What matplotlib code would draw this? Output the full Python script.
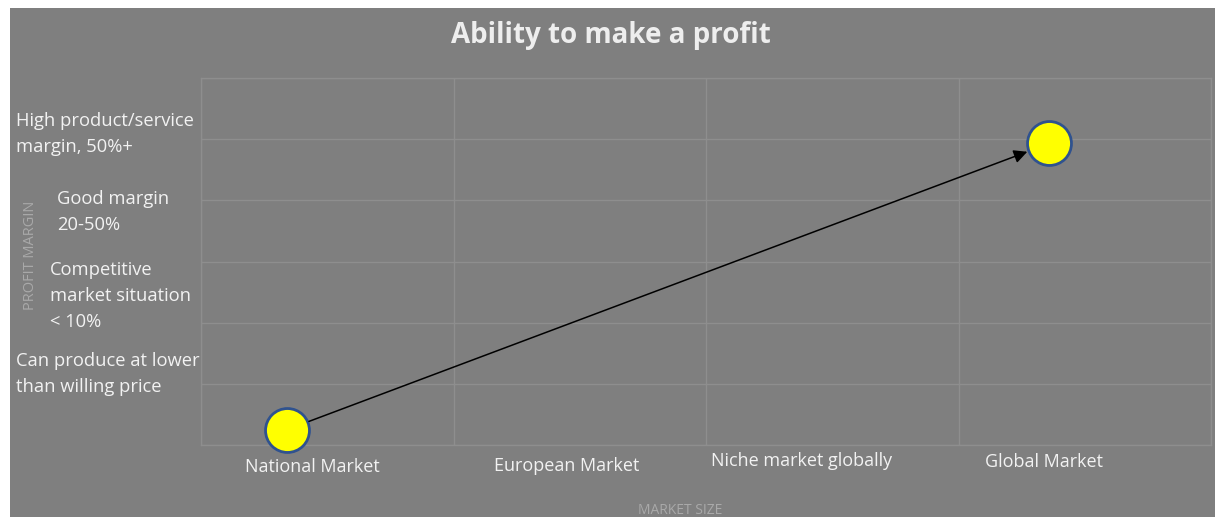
import matplotlib.pyplot as plt
import matplotlib.transforms as mtransforms
from matplotlib.patches import Rectangle

# data
markets = ["National Market", "European Market", "Niche market globally", "Global Market"]
margins = ["Can produce at lower\nthan willing price",
           "Competitive\nmarket situation\n< 10%",
           "Good margin\n20-50%",
           "High product/service\nmargin, 50%+"]
pt_x = [0.34, 3.36]
pt_y = [0.25, 4.93]

# layout of the text boxes (figure pixels, from top-left)
market_lbl_x = [0.44, 1.45, 2.38, 3.34]
market_lbl_y = [467, 466, 461, 462]
margin_lbl_x = [16, 50, 57, 16]
margin_lbl_y = [374, 296, 212, 134]

bg = "#7f7f7f"
grid_c = "#8e8e8e"
txt_c = "#f2f2f2"
W, H = 1215, 517
plt.rcParams['font.family'] = ['Open Sans', 'DejaVu Sans']

fig = plt.figure(figsize=(W / 100, H / 100), dpi=100)
fig.patch.set_facecolor("white")
fig.patches.append(Rectangle((10 / W, 0), 1 - 10 / W, (H - 8) / H,
                             transform=fig.transFigure, facecolor=bg,
                             edgecolor="none", zorder=-10))

ax = fig.add_axes([201 / W, (H - 445) / H, (1211 - 201) / W, (445 - 78) / H])
ax.set_facecolor(bg)
ax.set_xlim(0, 4)
ax.set_ylim(0, 6)
ax.set_xticks(range(5))
ax.set_yticks(range(7))
ax.grid(True, color=grid_c, lw=1)
ax.set_axisbelow(True)
ax.tick_params(length=0, labelbottom=False, labelleft=False)
for s in ax.spines.values():
    s.set_color(grid_c)
    s.set_linewidth(1)

ax.scatter(pt_x, pt_y, s=1000, facecolor="#ffff00", edgecolor="#2f528f",
           linewidth=2.0, zorder=5, clip_on=False)
ax.annotate("", xy=(pt_x[1], pt_y[1]), xytext=(pt_x[0], pt_y[0]),
            arrowprops=dict(arrowstyle="-|>", color="black", lw=1.1,
                            mutation_scale=20, shrinkA=17, shrinkB=17),
            zorder=6)

tr = mtransforms.blended_transform_factory(ax.transData, fig.transFigure)
for lbl, x, y in zip(markets, market_lbl_x, market_lbl_y):
    ax.text(x, 1 - y / H, lbl, transform=tr, ha="center", va="center",
            color=txt_c, fontsize=13)

for lbl, x, y in zip(margins, margin_lbl_x, margin_lbl_y):
    fig.text(x / W, 1 - y / H, lbl, ha="left", va="center", color=txt_c,
             fontsize=13.2, linespacing=1.6)

fig.text(611 / W, 1 - 35 / H, "Ability to make a profit", ha="center",
         va="center", color="#eeeeee", fontsize=20, fontweight="bold")
fig.text(30 / W, 1 - 255 / H, "PROFIT MARGIN", rotation=90, ha="center",
         va="center", color="#a9a9a9", fontsize=10.5)
fig.text(680 / W, 1 - 510 / H, "MARKET SIZE", ha="center", va="center",
         color="#a9a9a9", fontsize=10)

fig.savefig("out.png", dpi=100)
